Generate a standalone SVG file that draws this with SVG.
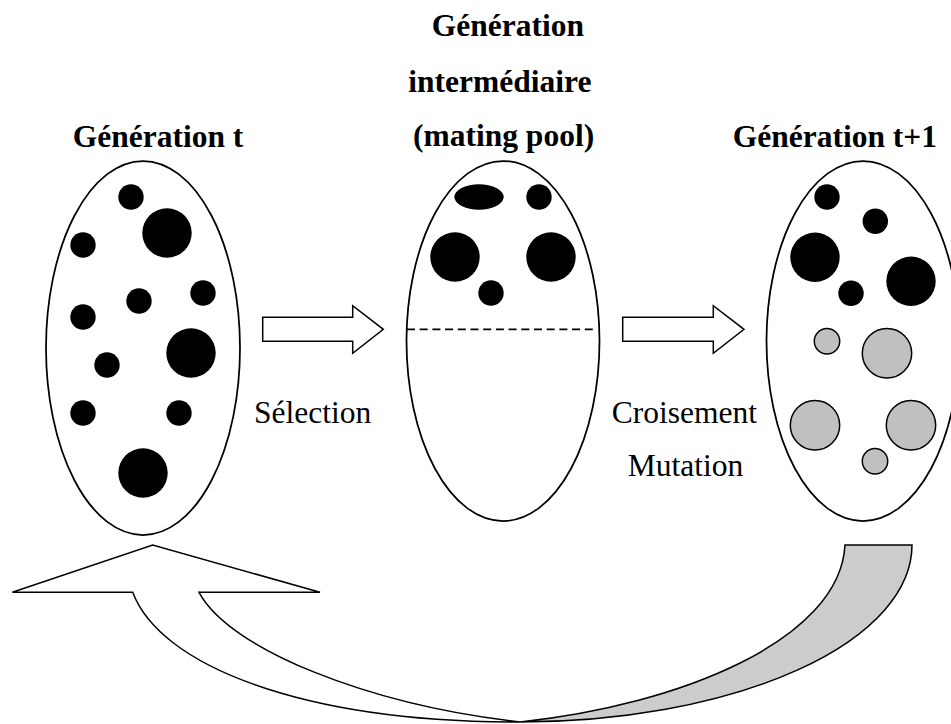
<svg xmlns="http://www.w3.org/2000/svg" width="951" height="724" viewBox="0 0 951 724">
  <style>
    .title { font-family: "Liberation Serif", "Times New Roman", serif; font-weight: bold; font-size: 31.5px; fill: #000; }
    .label { font-family: "Liberation Serif", "Times New Roman", serif; font-size: 31.5px; fill: #000; }
    .pop { fill: #fff; stroke: #000; stroke-width: 1.75; }
    .ind { fill: #000; }
    .child { fill: #c0c0c0; stroke: #000; stroke-width: 1.5; }
    .block { fill: #fff; stroke: #000; stroke-width: 1.5; stroke-linejoin: miter; }
  </style>
  <rect width="951" height="724" fill="#fff"/>

  <!-- population at generation t -->
  <g id="gen-t">
    <text class="title" x="72.7" y="147">Génération t</text>
    <ellipse class="pop" cx="143" cy="348" rx="97" ry="187"/>
    <circle class="ind" cx="131" cy="197" r="12.7"/>
    <circle class="ind" cx="167" cy="233" r="24.7"/>
    <circle class="ind" cx="83" cy="245" r="12.7"/>
    <circle class="ind" cx="139" cy="301" r="12.7"/>
    <circle class="ind" cx="203" cy="293" r="12.7"/>
    <circle class="ind" cx="83" cy="317" r="12.7"/>
    <circle class="ind" cx="191" cy="353" r="24.7"/>
    <circle class="ind" cx="107" cy="365" r="12.7"/>
    <circle class="ind" cx="83" cy="413" r="12.7"/>
    <circle class="ind" cx="179" cy="413" r="12.7"/>
    <circle class="ind" cx="143" cy="473" r="24.7"/>
  </g>

  <!-- intermediate generation (mating pool) -->
  <g id="gen-intermediate">
    <text class="title" x="431.7" y="36">Génération</text>
    <text class="title" x="408.3" y="91.7">intermédiaire</text>
    <text class="title" x="413" y="146">(mating pool)</text>
    <ellipse class="pop" cx="503" cy="341" rx="96.5" ry="180"/>
    <line x1="407" y1="329.3" x2="597" y2="329.3" stroke="#000" stroke-width="1.75" stroke-dasharray="8 4.7"/>
    <ellipse class="ind" cx="479" cy="197" rx="24.7" ry="12.7"/>
    <circle class="ind" cx="539" cy="197" r="12.7"/>
    <circle class="ind" cx="455" cy="257" r="24.7"/>
    <circle class="ind" cx="551" cy="257" r="24.7"/>
    <circle class="ind" cx="491" cy="293" r="12.7"/>
  </g>

  <!-- population at generation t+1 -->
  <g id="gen-t1">
    <text class="title" x="732.7" y="147">Génération t+1</text>
    <ellipse class="pop" cx="863" cy="341" rx="96.5" ry="180"/>
    <circle class="ind" cx="827" cy="197" r="12.7"/>
    <circle class="ind" cx="875.3" cy="221.3" r="12.7"/>
    <circle class="ind" cx="815" cy="257.3" r="24.7"/>
    <circle class="ind" cx="851" cy="293.3" r="12.7"/>
    <circle class="ind" cx="911" cy="281.3" r="24.7"/>
    <circle class="child" cx="827" cy="341.3" r="12.7"/>
    <circle class="child" cx="887" cy="353.3" r="24.7"/>
    <circle class="child" cx="815" cy="425.3" r="24.7"/>
    <circle class="child" cx="911" cy="425.3" r="24.7"/>
    <circle class="child" cx="875" cy="461.3" r="12.7"/>
  </g>

  <!-- operators and the loop back to the next cycle -->
  <g id="connectors">
    <polygon class="block" points="262.7,317.3 352.7,317.3 352.7,305.7 383.3,329.3 352.7,353.3 352.7,341.3 262.7,341.3"/>
    <text class="label" x="254" y="422.7">Sélection</text>
    <polygon class="block" points="622.7,317.3 713.3,317.3 713.3,305.7 744,329.3 713.3,353.3 713.3,341.3 622.7,341.3"/>
    <text class="label" x="611.7" y="422.7">Croisement</text>
    <text class="label" x="627.7" y="476">Mutation</text>
    <!-- back face of the ribbon -->
    <path d="M845,545 L912,545 A392,177 0 0 1 520,722 C680,705 840,640 845,545 Z" fill="#cccccc" stroke="#000" stroke-width="1.5"/>
    <!-- front face with the arrowhead -->
    <path class="block" d="M12.3,592.3 L152.7,545 L320,592.3 L199,592.3 C230,650 370,705 520,722 C300,722 160,665 132.7,592.3 Z"/>
  </g>
</svg>
